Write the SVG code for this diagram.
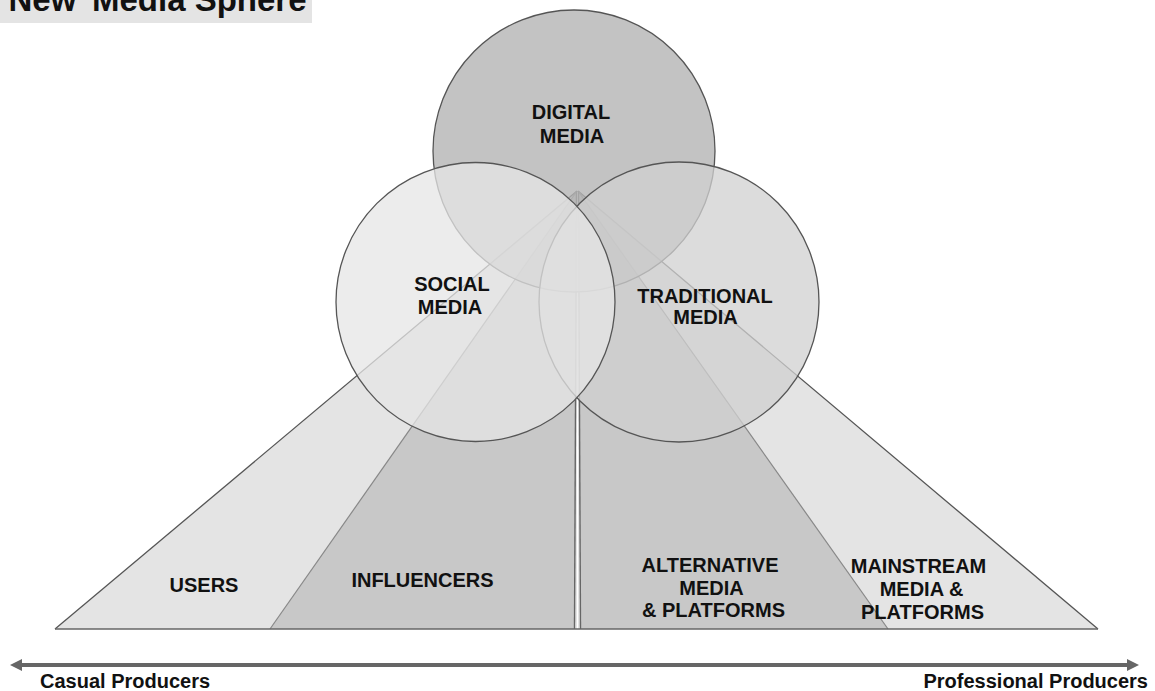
<svg xmlns="http://www.w3.org/2000/svg" width="1155" height="691" viewBox="0 0 1155 691">
<defs>
<style>
.lbl{font-family:"Liberation Sans",Arial,sans-serif;font-weight:bold;font-size:20px;fill:#111;text-anchor:middle}
.axis{font-family:"Liberation Sans",Arial,sans-serif;font-weight:bold;font-size:20px;fill:#111}
.title{font-family:"Liberation Sans",Arial,sans-serif;font-weight:bold;font-size:33px;fill:#111}
.circ{stroke:#555;stroke-width:1.3}
.edge{stroke:#888;stroke-width:1.2;fill:none}
.dark{stroke:#555;stroke-width:1.3;fill:none}
.mid{stroke:#666;stroke-width:1.4;fill:none}
</style>
<marker id="ah" markerUnits="userSpaceOnUse" markerWidth="13" markerHeight="13" refX="0" refY="6" orient="auto-start-reverse">
<path d="M0,0 L12,6 L0,12 z" fill="#666"/>
</marker>
</defs>
<rect width="1155" height="691" fill="#fff"/>
<g id="title">
<rect x="0" y="0" width="312" height="23" fill="#e4e4e4"/>
<text class="title" y="11"><tspan x="-8">“New”</tspan><tspan x="92">Media Sphere</tspan></text>
</g>
<g id="users">
<polygon points="577,191 55,629 577,629" fill="#e4e4e4"/>
<line class="dark" x1="577" y1="191" x2="55" y2="629"/>
</g>
<g id="mainstream">
<polygon points="578,191 1098,629 578,629" fill="#e4e4e4"/>
<line class="dark" x1="578" y1="191" x2="1098" y2="629"/>
</g>
<g id="influencers">
<polygon points="577,191 270,629 575,629" fill="#c8c8c8"/>
<line class="edge" x1="577" y1="191" x2="270" y2="629"/>
<line class="mid" x1="576.5" y1="191" x2="574.5" y2="629"/>
</g>
<g id="alternative">
<polygon points="578.5,191 580.5,629 888,629" fill="#c8c8c8"/>
<line class="edge" x1="578" y1="191" x2="888" y2="629"/>
<line class="mid" x1="578.5" y1="191" x2="580.5" y2="629"/>
</g>
<line class="mid" x1="55" y1="629" x2="1098" y2="629"/>
<g id="digital">
<circle class="circ" cx="574" cy="151" r="141" fill="#b4b4b4" fill-opacity="0.8"/>
</g>
<g id="traditional">
<circle class="circ" cx="679" cy="302" r="140" fill="#d0d0d0" fill-opacity="0.75"/>
</g>
<g id="social">
<circle class="circ" cx="475.5" cy="302" r="139.5" fill="#e6e6e6" fill-opacity="0.75"/>
</g>
<g id="labels">
<text class="lbl" x="571" y="119">DIGITAL</text>
<text class="lbl" x="572" y="143">MEDIA</text>
<text class="lbl" x="452" y="291">SOCIAL</text>
<text class="lbl" x="450" y="314">MEDIA</text>
<text class="lbl" x="705" y="303">TRADITIONAL</text>
<text class="lbl" x="705.5" y="324">MEDIA</text>
<text class="lbl" x="204" y="592">USERS</text>
<text class="lbl" x="422.5" y="587">INFLUENCERS</text>
<text class="lbl" x="710" y="572">ALTERNATIVE</text>
<text class="lbl" x="711.5" y="595">MEDIA</text>
<text class="lbl" x="713.5" y="617">&amp; PLATFORMS</text>
<text class="lbl" x="918.5" y="573">MAINSTREAM</text>
<text class="lbl" x="921.5" y="596">MEDIA &amp;</text>
<text class="lbl" x="922.5" y="619">PLATFORMS</text>
</g>
<g id="connectors">
<line x1="22" y1="665" x2="1127" y2="665" stroke="#666" stroke-width="4" marker-start="url(#ah)" marker-end="url(#ah)"/>
</g>
<text class="axis" x="40" y="688">Casual Producers</text>
<text class="axis" x="1148" y="688" text-anchor="end">Professional Producers</text>
</svg>
